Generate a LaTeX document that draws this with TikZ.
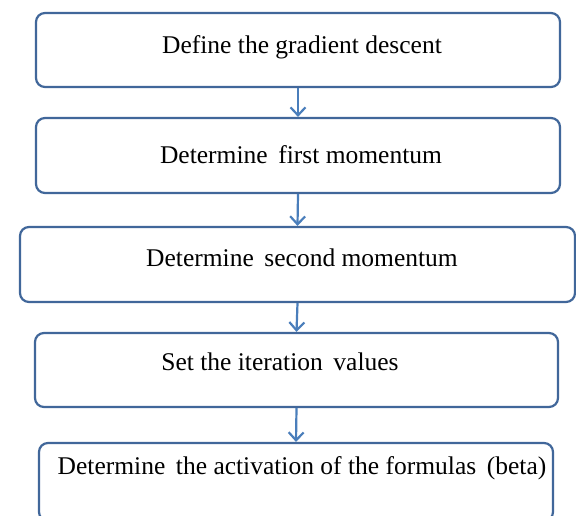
\documentclass[tikz,border=0pt]{standalone}
\usepackage{fontspec}
\setmainfont{Liberation Serif}
\usetikzlibrary{arrows.meta}
\definecolor{boxline}{HTML}{41679A}
\definecolor{arrline}{HTML}{4A7EBB}
\begin{document}
\begin{tikzpicture}[x=1pt,y=-1pt,
  stepbox/.style={draw=boxline,line width=2.2pt,rounded corners=9pt,inner sep=0pt,fill=white},
  steptext/.style={inner sep=0pt,font=\fontsize{25.5}{30}\selectfont,anchor=center},
  arr/.style={draw=arrline,line width=2.2pt,-{Straight Barb[length=8pt,width=15pt,line width=2.2pt]}}]
\useasboundingbox[fill=white] (0,0) rectangle (576,515);
\node[stepbox,minimum width=524pt,minimum height=74pt] (b1) at (298,50) {};
\node[stepbox,minimum width=524pt,minimum height=75pt] (b2) at (298,155.5) {};
\node[stepbox,minimum width=555pt,minimum height=75pt] (b3) at (297.5,264.5) {};
\node[stepbox,minimum width=523pt,minimum height=74pt] (b4) at (296.5,370) {};
\node[stepbox,minimum width=514pt,minimum height=78pt] (b5) at (296,482) {};
\node[steptext] (t1) at (302,47) {Define the gradient descent};
\node[steptext] (t2) at (301,155) {Determine\, first momentum};
\node[steptext] (t3) at (302,258) {Determine\, second momentum};
\node[steptext] (t4) at (280,362) {Set the iteration\, values};
\node[steptext] (t5) at (302,468) {Determine\, the activation of the formulas\, (beta)};
\draw[arr] (b1.south) -- (b2.north);
\draw[arr] (b2.south) -- (b3.north);
\draw[arr] (b3.south) -- (b4.north);
\draw[arr] (b4.south) -- (b5.north);
\end{tikzpicture}
\end{document}
